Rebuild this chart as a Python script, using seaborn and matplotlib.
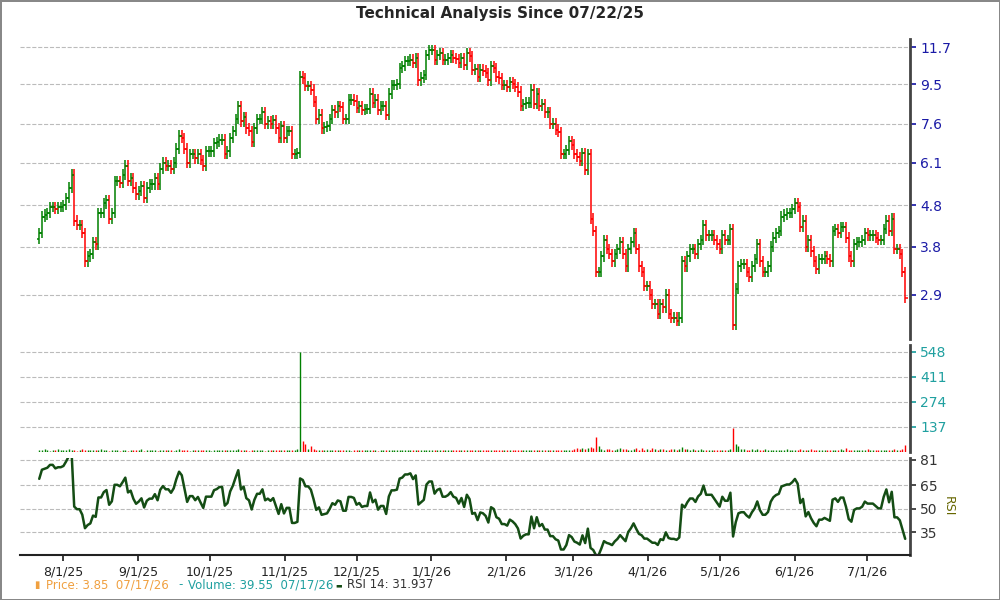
import numpy as np
import pandas as pd
import matplotlib
matplotlib.use("Agg")
import matplotlib.pyplot as plt
from matplotlib.ticker import FixedLocator, NullLocator, NullFormatter
import seaborn as sns

sns.set_theme(style="white")
plt.rcParams['font.family'] = ['DejaVu Sans']

# ---- data ----
closes_a = [4.1, 4.5, 4.55, 4.6, 4.75, 4.75, 4.7, 4.75, 4.75, 4.8,
            5.0, 5.3, 5.7, 4.4, 4.3, 4.3, 4.1, 3.5, 3.6, 3.65,
            3.9, 3.85, 4.6, 4.6, 4.85, 4.95, 4.45, 4.6, 5.5, 5.5,
            5.45, 5.7, 6.0, 5.5, 5.6, 5.3, 5.1, 5.2, 5.35, 5.0,
            5.3, 5.4, 5.4, 5.6, 5.4, 5.9, 6.1, 6.0, 6.0, 5.9,
            6.1, 6.6, 7.1, 7.0, 6.6, 6.1, 6.4, 6.4, 6.25, 6.4,
            6.2, 6.0, 6.5, 6.5, 6.5, 6.8, 6.85, 6.95, 6.95, 6.4,
            6.5, 7.0, 7.3, 7.8, 8.4, 7.7, 7.9, 7.4, 7.3, 6.85,
            7.4, 7.8, 7.8, 8.1, 7.6, 7.7, 7.6, 7.75, 7.4, 7.0,
            7.5, 7.0, 7.3, 7.3, 6.4, 6.4, 6.45, 9.9, 9.8, 9.4,
            9.4, 9.2, 8.6, 7.8, 8.0, 7.4, 7.45, 7.5, 7.8, 8.2,
            8.1]
closes_b = [8.4, 8.35, 7.8, 7.8, 8.7, 8.7, 8.65, 8.3, 8.4, 8.2,
            8.25, 8.25, 9.0, 8.55, 8.7, 8.2, 8.4, 8.4, 8.0, 9.0,
            9.45, 9.45, 9.5, 10.4, 10.5, 10.8, 10.8, 10.9, 10.7, 11.0,
            9.7, 9.85, 10.0, 11.2, 11.5, 11.5, 10.9, 11.2, 11.3, 10.9,
            10.9, 11.0, 11.2, 11.0, 10.95, 10.7, 11.0, 10.6, 11.3, 11.1,
            10.3, 10.35, 9.9, 10.3, 10.25, 10.1, 9.7, 10.5, 10.4, 9.9,
            9.8, 9.45, 9.45, 9.35, 9.6, 9.5, 9.35, 9.1, 8.4, 8.5,
            8.55, 8.55, 9.2, 8.5, 9.0, 8.4, 8.5, 8.1, 8.1, 7.6,
            7.6, 7.35, 7.25, 6.4, 6.4, 6.55, 6.9, 6.75, 6.4, 6.3,
            6.15, 6.45, 5.85, 6.4, 4.45, 4.15, 3.3, 3.3, 3.6, 3.95,
            3.75, 3.65, 3.5, 3.65, 3.75, 3.9, 3.65, 3.4, 3.75, 3.9,
            4.1, 3.75, 3.4]
closes_c = [3.3, 3.05, 3.05, 2.9, 2.75, 2.75, 2.6, 2.75, 2.7, 2.9,
            2.6, 2.55, 2.55, 2.5, 2.55, 3.5, 3.4, 3.6, 3.75, 3.75,
            3.65, 3.85, 3.95, 4.3, 4.05, 4.05, 4.05, 3.95, 3.85, 3.75,
            4.05, 3.95, 3.95, 4.2, 2.45, 3.0, 3.4, 3.45, 3.45, 3.3,
            3.2, 3.4, 3.55, 3.85, 3.5, 3.3, 3.3, 3.4, 3.8, 4.0,
            4.1, 4.15, 4.5, 4.55, 4.6, 4.6, 4.7, 4.85, 4.75, 4.25,
            4.4, 3.8, 3.95, 3.7, 3.5, 3.35, 3.55, 3.55, 3.6, 3.55,
            3.5, 4.15, 4.2, 4.1, 4.25, 4.25, 4.0, 3.6, 3.5, 3.85,
            3.9, 3.9, 3.95, 4.1, 4.05, 4.05, 4.05, 4.0, 3.95, 3.95,
            4.2, 4.4, 4.15, 4.45, 3.75, 3.75, 3.65, 3.3, 2.85]

vol_a = [12, 8, 14, 10, 6, 12, 9, 15, 11, 8,
         10, 14, 9, 12, 7, 10, 13, 8, 11, 9,
         12, 8, 10, 14, 9, 11, 7, 12, 10, 8,
         6, 9, 11, 7, 10, 12, 8, 9, 13, 7,
         10, 8, 12, 9, 7, 11, 10, 8, 12, 9,
         7, 10, 13, 8, 9, 11, 7, 10, 8, 12,
         9, 11, 8, 10, 7, 12, 9, 8, 11, 10,
         8, 12, 9, 10, 14, 8, 11, 9, 7, 10,
         12, 8, 9, 11, 7, 10, 8, 9, 12, 10,
         8, 9, 11, 10, 12, 9, 13, 548, 60, 45,
         18, 30, 14, 10, 12, 8, 11, 9, 10, 8,
         9]
vol_b = [10, 8, 12, 9, 11, 7, 10, 8, 12, 9,
         11, 8, 10, 12, 9, 7, 11, 10, 8, 12,
         9, 10, 11, 8, 12, 9, 10, 8, 11, 9,
         12, 10, 8, 11, 9, 10, 12, 8, 9, 11,
         10, 8, 12, 9, 11, 10, 8, 12, 9, 10,
         11, 8, 10, 12, 9, 11, 8, 10, 9, 12,
         10, 8, 11, 9, 12, 10, 8, 11, 9, 10,
         12, 9, 8, 11, 10, 9, 12, 8, 10, 11,
         9, 12, 10, 8, 11, 9, 10, 12, 18, 20,
         15, 22, 18, 20, 25, 20, 80, 30, 15, 12,
         18, 14, 10, 12, 16, 20, 18, 14, 12, 10,
         15, 22, 12]
vol_c = [20, 12, 14, 10, 22, 16, 12, 18, 14, 10,
         12, 16, 14, 10, 15, 28, 18, 14, 12, 16,
         10, 12, 14, 10, 12, 9, 11, 10, 12, 9,
         11, 10, 12, 14, 130, 45, 30, 18, 14, 12,
         10, 16, 12, 14, 10, 12, 14, 11, 10, 12,
         9, 11, 10, 12, 14, 10, 12, 11, 9, 18,
         12, 10, 11, 14, 10, 12, 9, 11, 10, 12,
         11, 9, 12, 10, 14, 11, 20, 12, 10, 11,
         9, 12, 10, 11, 13, 10, 12, 11, 9, 12,
         10, 11, 12, 10, 14, 12, 11, 15, 40]

closes = np.array(closes_a + closes_b + closes_c)
volume = np.array(vol_a + vol_b + vol_c, dtype=float)
n = len(closes)
volume = volume[:n]
dates = pd.date_range("2025-07-22", "2026-07-17", periods=n)

opens = np.concatenate([[closes[0] * 0.97], closes[:-1]])
highs = np.maximum(opens, closes) * 1.03
lows = np.minimum(opens, closes) / 1.03
up = closes >= opens
colors = np.where(up, "#008000", "#ff0000")

# RSI 14 (Wilder smoothing, seeded with an average gain/loss)
avg_g, avg_l = 0.10, 0.045
rsi = []
prev = closes[0]
for c in closes:
    d = c - prev
    prev = c
    avg_g = (avg_g * 13 + max(d, 0)) / 14
    avg_l = (avg_l * 13 + max(-d, 0)) / 14
    rsi.append(100 - 100 / (1 + avg_g / avg_l))
df = pd.DataFrame({"date": dates, "rsi": rsi, "volume": volume})

price_ticks = [2.9, 3.8, 4.8, 6.1, 7.6, 9.5, 11.7]
vol_ticks = [137, 274, 411, 548]
rsi_ticks = [35, 50, 65, 81]
month_ticks = pd.to_datetime(["2025-08-01", "2025-09-01", "2025-10-01", "2025-11-01",
                              "2025-12-01", "2026-01-01", "2026-02-01", "2026-03-01",
                              "2026-04-01", "2026-05-01", "2026-06-01", "2026-07-01"])

# ---- figure ----
fig = plt.figure(figsize=(10, 6), dpi=100)
fig.patch.set_edgecolor("#888888")
fig.patch.set_linewidth(2)
xl = (pd.Timestamp("2025-07-14"), pd.Timestamp("2026-07-19"))

ax1 = fig.add_axes([0.02, 0.435, 0.89, 0.50])
ax2 = fig.add_axes([0.02, 0.247, 0.89, 0.178], sharex=ax1)
ax3 = fig.add_axes([0.02, 0.075, 0.89, 0.162], sharex=ax1)

dx = pd.Timedelta(hours=26)
ax1.vlines(dates, lows, highs, colors=colors, lw=1.1)
ax1.hlines(opens, dates - dx, dates, colors=colors, lw=1.1)
ax1.hlines(closes, dates, dates + dx, colors=colors, lw=1.1)
ax1.set_yscale("log")
ax1.set_ylim(2.26, 12.24)
ax1.yaxis.set_major_locator(FixedLocator(price_ticks))
ax1.yaxis.set_minor_locator(NullLocator())
ax1.yaxis.set_minor_formatter(NullFormatter())
ax1.set_yticklabels([str(t) for t in price_ticks])
ax1.yaxis.tick_right()
ax1.tick_params(axis="y", colors="#1a1aa6", labelsize=10, length=4, direction="out")
ax1.tick_params(axis="x", bottom=False, labelbottom=False)
ax1.grid(axis="y", color="#bbbbbb", ls="--", lw=0.8)

ax2.vlines(dates, 0, volume, colors=colors, lw=1.0)
ax2.set_ylim(0, 586)
ax2.yaxis.set_major_locator(FixedLocator(vol_ticks))
ax2.yaxis.tick_right()
ax2.tick_params(axis="y", colors="#20a0a0", labelsize=10, length=4)
ax2.tick_params(axis="x", bottom=False, labelbottom=False)
ax2.grid(axis="y", color="#bbbbbb", ls="--", lw=0.8)

sns.lineplot(data=df, x="date", y="rsi", ax=ax3, color="#144d14", lw=1.8)
ax3.set_ylim(20.7, 82.3)
ax3.yaxis.set_major_locator(FixedLocator(rsi_ticks))
ax3.yaxis.tick_right()
ax3.tick_params(axis="y", colors="#333333", labelsize=10, length=4)
ax3.set_ylabel("RSI", rotation=270, labelpad=12, color="#666600", fontsize=9)
ax3.yaxis.set_label_position("right")
ax3.set_xlabel("")
ax3.grid(axis="y", color="#bbbbbb", ls="--", lw=0.8)
ax3.set_xticks(month_ticks)
ax3.set_xticklabels([f"{d.month}/{d.day}/{d.strftime('%y')}" for d in month_ticks], fontsize=9)
ax3.tick_params(axis="x", length=4, colors="#222222", labelbottom=True, bottom=True)

for ax in (ax1, ax2, ax3):
    ax.set_facecolor("white")
    for s in ("top", "left"):
        ax.spines[s].set_visible(False)
    ax.spines["right"].set_color("#444444")
    ax.spines["right"].set_linewidth(2)
    ax.spines["bottom"].set_visible(False)
ax1.set_xlim(*xl)
ax3.spines["bottom"].set_visible(True)
ax3.spines["bottom"].set_color("#222222")
ax3.spines["bottom"].set_linewidth(1.5)

fig.text(0.5, 0.978, "Technical Analysis Since 07/22/25", ha="center", va="center",
         fontsize=11, fontweight="bold")
fs = 8.5
fig.text(0.034, 0.025, "▮", color="#f0a040", fontsize=7, va="center")
fig.text(0.046, 0.025, "Price: 3.85  07/17/26", color="#f0a040", fontsize=fs, va="center")
fig.text(0.178, 0.025, "-", color="#20a0a0", fontsize=fs, va="center")
fig.text(0.188, 0.025, "Volume: 39.55  07/17/26", color="#20a0a0", fontsize=fs, va="center")
fig.text(0.335, 0.025, "▬", color="#144d14", fontsize=5, va="center")
fig.text(0.347, 0.025, "RSI 14: 31.937", color="#333333", fontsize=fs, va="center")

fig.savefig("out.png", dpi=100, edgecolor=fig.get_edgecolor())
